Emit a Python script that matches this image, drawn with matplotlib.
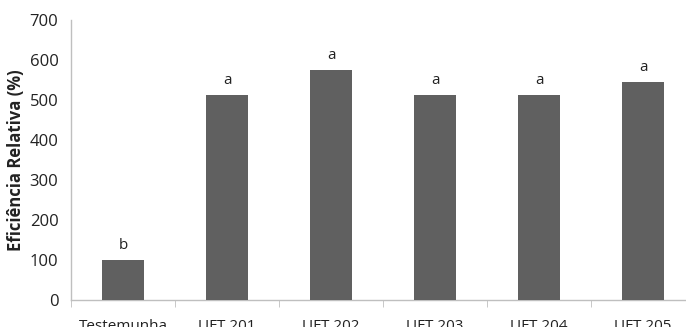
import matplotlib.pyplot as plt

categories = ["Testemunha", "UFT 201", "UFT 202", "UFT 203", "UFT 204", "UFT 205"]
values = [100, 513, 575, 513, 513, 544]
letters = ["b", "a", "a", "a", "a", "a"]
yticks = [0, 100, 200, 300, 400, 500, 600, 700]

plt.rcParams['font.family'] = ['Open Sans', 'DejaVu Sans']

fig = plt.figure(figsize=(6.86, 3.27), dpi=100)
# axes run slightly past the right edge like the source image
ax = fig.add_axes([71 / 686, 27 / 327, 624 / 686, 280 / 327])

x = range(len(categories))
ax.bar(x, values, width=0.4, color='#606060', zorder=3)

for i, (v, lab) in enumerate(zip(values, letters)):
    ax.annotate(lab, (i, v), xytext=(0, 5), textcoords='offset points',
                ha='center', va='bottom', fontsize=11, color='#222222')

ax.set_xlim(-0.5, len(categories) - 0.5)
ax.set_ylim(0, 700)
ax.set_yticks(yticks)
ax.set_xticks([i + 0.5 for i in range(-1, len(categories))], minor=True)
ax.set_xticks(list(x))
ax.set_xticklabels(categories, fontsize=11, color='#222222')
ax.tick_params(axis='x', which='major', length=0, pad=14)
ax.tick_params(axis='x', which='minor', length=5, color='#bfbfbf')
ax.tick_params(axis='y', length=0, pad=9, labelsize=12, labelcolor='#222222')

for side in ['top', 'right']:
    ax.spines[side].set_visible(False)
for side in ['left', 'bottom']:
    ax.spines[side].set_color('#bfbfbf')
    ax.spines[side].set_linewidth(1)

ax.set_ylabel('Eficiência Relativa (%)', fontsize=12, fontweight='bold',
              color='#222222')
# right edge of the rotated label sits about 25 px from the figure edge
ax.yaxis.set_label_coords(-46 / 624, 0.5)

fig.savefig('out.png', dpi=100)
